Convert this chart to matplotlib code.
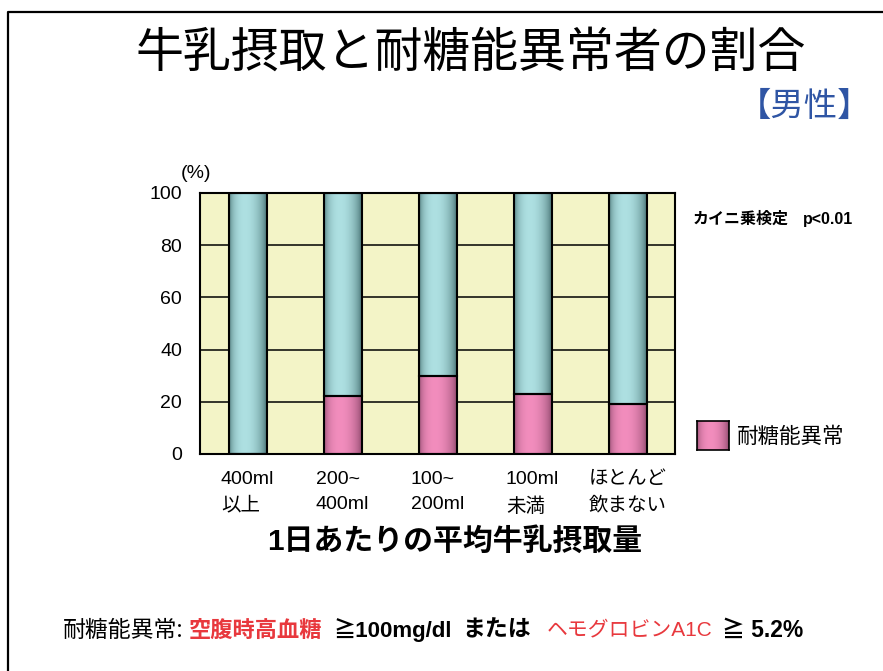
import matplotlib
matplotlib.use('Agg')
import matplotlib.pyplot as plt
import numpy as np
from matplotlib.lines import Line2D
from matplotlib.colors import to_rgb

# データ
categories = ['400ml\n以上', '200~\n400ml', '100~\n200ml', '100ml\n未満', 'ほとんど\n飲まない']
igt = [0.0, 22.3, 30.0, 23.0, 19.2]          # 耐糖能異常 (%)
normal = [100.0, 77.7, 70.0, 77.0, 80.8]      # 残り (%)
yticks = [0, 20, 40, 60, 80, 100]

JP = ['Noto Sans CJK JP', 'DejaVu Sans']
MIX = ['Liberation Sans', 'Noto Sans CJK JP', 'DejaVu Sans']
RED = '#e8383d'

TEAL = ('#355f60', '#aee0e2')
PINK = ('#7e3e5f', '#f28dbd')


def gradient(colors, n=80):
    """円柱っぽい横方向のグラデーション"""
    dark, light = np.array(to_rgb(colors[0])), np.array(to_rgb(colors[1]))
    t = np.linspace(0, 1, n)
    w = np.sin(np.pi * t ** 0.8) ** 0.5
    return (dark + (light - dark) * w[:, None])[None, :, :]


fig = plt.figure(figsize=(8.83, 6.71), dpi=100)
W, H = 883, 671

ax = fig.add_axes([200 / W, 1 - 454 / H, 475 / W, 261 / H])
ax.set_facecolor('#f3f4c7')

x = np.arange(len(categories))
bw = 0.4
for xi, lo, hi in zip(x, igt, normal):
    x0, x1 = xi - bw / 2, xi + bw / 2
    if lo > 0:
        ax.imshow(gradient(PINK), extent=[x0, x1, 0, lo], aspect='auto', zorder=3,
                  interpolation='bilinear')
    ax.imshow(gradient(TEAL), extent=[x0, x1, lo, lo + hi], aspect='auto', zorder=3,
              interpolation='bilinear')
ax.bar(x, igt, bw, facecolor='none', edgecolor='black', linewidth=1.5, zorder=4)
ax.bar(x, normal, bw, bottom=igt, facecolor='none', edgecolor='black', linewidth=1.5, zorder=4)

ax.set_xlim(-0.5, len(categories) - 0.5)
ax.set_ylim(0, 100)
ax.set_yticks(yticks)
ax.set_yticklabels([str(v) for v in yticks], family=MIX, fontsize=14)
ax.set_xticks(x)
ax.set_xticklabels(categories, family=MIX, fontsize=14, linespacing=1.65,
                   multialignment='left')
ax.tick_params(axis='y', length=0, pad=13)
ax.tick_params(axis='x', length=0, pad=12)
ax.grid(axis='y', color='black', linewidth=1.1, zorder=1)
ax.set_axisbelow(True)
for s in ax.spines.values():
    s.set_linewidth(1.5)
    s.set_zorder(5)

# テキスト
fig.text(471 / W, 1 - 53 / H, '牛乳摂取と耐糖能異常者の割合', family=JP, fontsize=34.5,
         ha='center', va='center')
fig.text(805 / W, 1 - 106 / H, '【男性】', family=JP, fontsize=24, color='#2f55a4',
         ha='center', va='center')
fig.text(196 / W, 1 - 173 / H, '(%)', family=MIX, fontsize=14, ha='center', va='center')
fig.text(455 / W, 1 - 541 / H, '1日あたりの平均牛乳摂取量', family=MIX, fontsize=21.5,
         weight='bold', ha='center', va='center')
fig.text(693 / W, 1 - 219 / H, 'カイニ乗検定', family=JP, fontsize=11.5,
         weight='bold', ha='left', va='center')
fig.text(803 / W, 1 - 219 / H, 'p<0.01', family=MIX, fontsize=11.5,
         weight='bold', ha='left', va='center')

# 凡例
lax = fig.add_axes([697 / W, 1 - 450 / H, 32 / W, 29 / H])
lax.imshow(gradient(PINK), extent=[0, 1, 0, 1], aspect='auto', interpolation='bilinear')
lax.set_xticks([])
lax.set_yticks([])
for s in lax.spines.values():
    s.set_linewidth(1.2)
fig.text(737 / W, 1 - 437 / H, '耐糖能異常', family=JP, fontsize=15.5, ha='left', va='center')

# 下の注記
yb = 1 - 630 / H
fs = 16.5
fig.text(63 / W, yb, '耐糖能異常:', family=JP, fontsize=fs, ha='left', va='center')
fig.text(189 / W, yb, '空腹時高血糖', family=JP, fontsize=16, weight='bold', color=RED,
         ha='left', va='center')
fig.text(333 / W, yb, '≧100mg/dl', family=MIX, fontsize=16, weight='bold',
         ha='left', va='center')
fig.text(462 / W, yb, 'または', family=JP, fontsize=fs, weight='bold', ha='left', va='center')
fig.text(547 / W, yb, 'ヘモグロビンA1C', family=MIX, fontsize=15, color=RED,
         ha='left', va='center')
fig.text(722 / W, yb, '≧ 5.2%', family=MIX, fontsize=fs, weight='bold',
         ha='left', va='center')

# 枠線
fig.add_artist(Line2D([8 / W, 8 / W, 1.0], [0.0, 1 - 12 / H, 1 - 12 / H],
                      color='black', linewidth=1.6, transform=fig.transFigure))

fig.savefig('out.png', dpi=100)
